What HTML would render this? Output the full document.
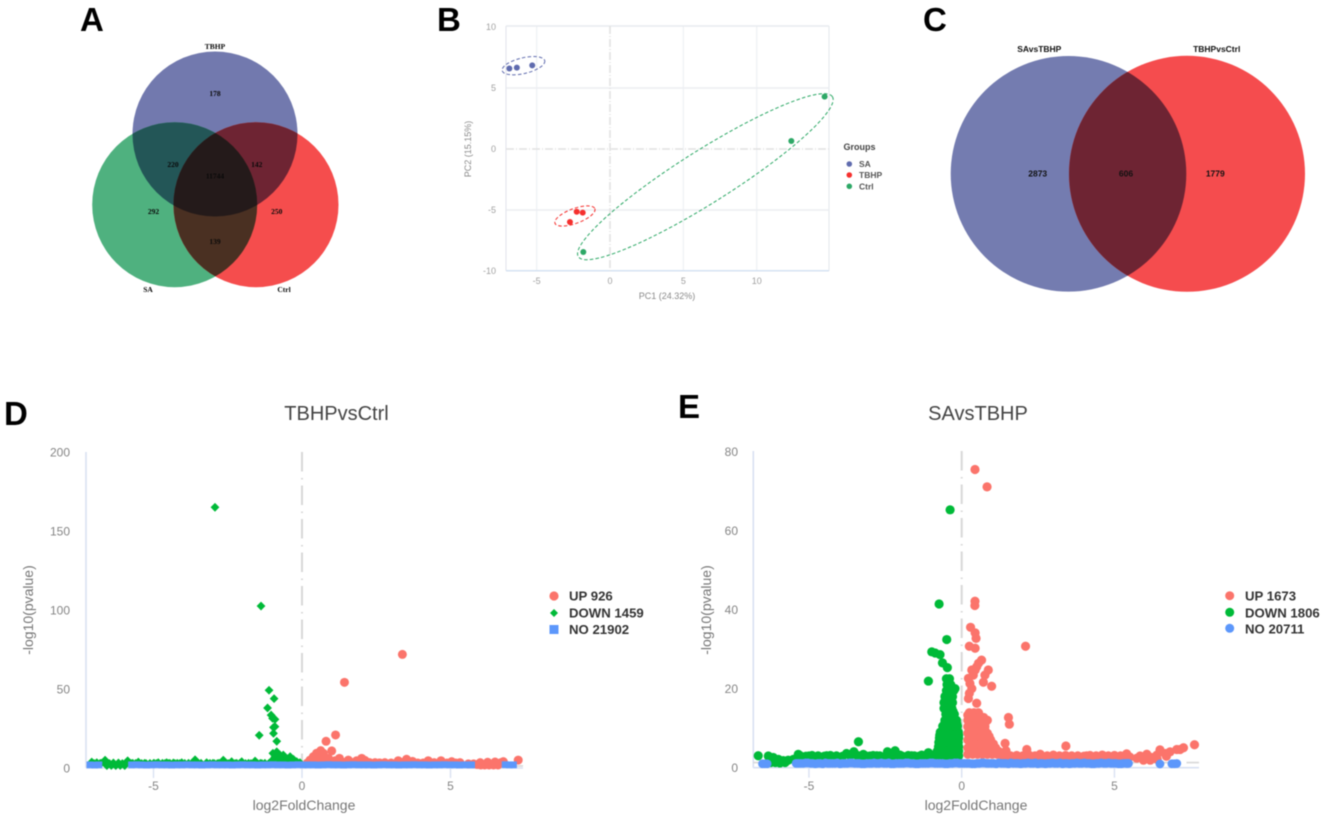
<!DOCTYPE html>
<html lang="en">
<head>
<meta charset="utf-8">
<title>Transcriptome comparison figure</title>
<style>
html,body{margin:0;padding:0;background:#fff;width:1325px;height:820px;overflow:hidden}
svg{display:block;filter:blur(.4px);font-family:"Liberation Sans",Arial,sans-serif}
.panel{font-weight:700;font-size:33px;fill:#000}
.vn{font-family:"Liberation Serif",serif;font-weight:700;font-size:7.5px;fill:#0a0a0a;text-anchor:middle}
.vc{font-weight:700;font-size:8.5px;fill:#111;text-anchor:middle}
.tick{fill:#858585;font-size:12px}
.axt{fill:#777;font-size:14px;text-anchor:middle}
.ttl{fill:#444;font-size:20px;text-anchor:middle}
.leg{fill:#333;font-size:13.2px;font-weight:700}
.btick{fill:#a0a0a0;font-size:9px}
.baxt{fill:#8a8a8a;font-size:9px;text-anchor:middle}
.bleg{fill:#555;font-size:8.5px;font-weight:700}
</style>
</head>
<body>
<svg id="fig" width="1325" height="820" viewBox="0 0 1325 820" xmlns="http://www.w3.org/2000/svg">
<defs>
<clipPath id="cT"><circle cx="215" cy="134" r="82.5"/></clipPath>
<clipPath id="cS"><circle cx="174.7" cy="204.7" r="82.5"/></clipPath>
<clipPath id="cC"><circle cx="256" cy="204.7" r="82.5"/></clipPath>
<clipPath id="cL"><circle cx="1068.5" cy="173.8" r="117.8"/></clipPath>
</defs>

<text class="panel" x="80" y="31">A</text>
<text class="panel" x="437" y="31">B</text>
<text class="panel" x="923" y="31">C</text>
<text class="panel" x="4" y="425">D</text>
<text class="panel" x="678" y="418">E</text>

<g>
<circle cx="215" cy="134" r="82.5" fill="#7279ae"/>
<circle cx="174.7" cy="204.7" r="82.5" fill="#4fb17f"/>
<circle cx="256" cy="204.7" r="82.5" fill="#f54d4d"/>
<g clip-path="url(#cT)">
<circle cx="174.7" cy="204.7" r="82.5" fill="#235657"/>
<circle cx="256" cy="204.7" r="82.5" fill="#6e2433"/>
</g>
<g clip-path="url(#cS)">
<circle cx="256" cy="204.7" r="82.5" fill="#4a3022"/>
<g clip-path="url(#cT)"><circle cx="256" cy="204.7" r="82.5" fill="#241a1a"/></g>
</g>
<text class="vn" x="215" y="49">TBHP</text>
<text class="vn" x="148" y="292">SA</text>
<text class="vn" x="284" y="292">Ctrl</text>
<text class="vn" x="215" y="96">178</text>
<text class="vn" x="173" y="167">220</text>
<text class="vn" x="256.7" y="167">142</text>
<text class="vn" x="215" y="178.5">11744</text>
<text class="vn" x="153.5" y="214">292</text>
<text class="vn" x="276.7" y="214">250</text>
<text class="vn" x="215" y="244">139</text>
</g>

<g>
<circle cx="1068.5" cy="173.8" r="117.8" fill="#747cb0"/>
<circle cx="1187" cy="173.8" r="118" fill="#f54c4e"/>
<g clip-path="url(#cL)"><circle cx="1187" cy="173.8" r="118" fill="#6e2433"/></g>
<text class="vc" x="1039.3" y="52">SAvsTBHP</text>
<text class="vc" x="1216.7" y="52">TBHPvsCtrl</text>
<text class="vc" x="1037.7" y="176.3">2873</text>
<text class="vc" x="1126" y="176.3">606</text>
<text class="vc" x="1215.3" y="176.3">1779</text>
</g>

<g id="pca">
<text class="baxt" x="667" y="299">PC1 (24.32%)</text>
<text class="baxt" transform="translate(471,149) rotate(-90)">PC2 (15.15%)</text>
<text x="843.5" y="150" font-size="9" font-weight="700" fill="#444">Groups</text>
<circle cx="849.3" cy="164" r="2.8" fill="#5f6bae"/>
<text class="bleg" x="859" y="167">SA</text>
<circle cx="849.3" cy="175" r="2.8" fill="#f5302e"/>
<text class="bleg" x="859" y="178">TBHP</text>
<circle cx="849.3" cy="186.3" r="2.8" fill="#2da866"/>
<text class="bleg" x="859" y="189.3">Ctrl</text>
</g>

<g id="volD">
<text class="ttl" x="336.5" y="420">TBHPvsCtrl</text>
<text class="axt" x="304" y="810">log2FoldChange</text>
<text class="axt" transform="translate(33,610) rotate(-90)">-log10(pvalue)</text>
</g>
<g>
<circle cx="554" cy="596" r="4.6" fill="#fb746b"/>
<text class="leg" x="569" y="600.5">UP 926</text>
<polygon points="554,609 558,613 554,617 550,613" fill="#00ba38"/>
<text class="leg" x="569" y="617.7">DOWN 1459</text>
<rect x="549.5" y="625" width="9" height="9" fill="#5c97fb"/>
<text class="leg" x="569" y="634">NO 21902</text>
</g>

<g id="volE">
<text class="ttl" x="978" y="420">SAvsTBHP</text>
<text class="axt" x="976" y="810">log2FoldChange</text>
<text class="axt" transform="translate(711,610) rotate(-90)">-log10(pvalue)</text>
</g>
<g>
<circle cx="1229.7" cy="595.7" r="4.5" fill="#fb746b"/>
<text class="leg" x="1245" y="600.5">UP 1673</text>
<circle cx="1229.7" cy="612.3" r="4.5" fill="#00ba38"/>
<text class="leg" x="1245" y="617.5">DOWN 1806</text>
<circle cx="1229.7" cy="628.3" r="4.5" fill="#5c97fb"/>
<text class="leg" x="1245" y="633.7">NO 20711</text>
</g>
</svg>

<script>
/* ---------- PCA data ---------- */
const pcaXTicks = [-5, 0, 5, 10];
const pcaYTicks = [10, 5, 0, -5, -10];
const saPC1 = [-6.86, -6.35, -5.3];
const saPC2 = [6.6, 6.67, 6.85];
const tbhpPC1 = [-2.27, -1.86, -2.73];
const tbhpPC2 = [-5.14, -5.22, -5.98];
const ctrlPC1 = [14.63, 12.36, -1.82];
const ctrlPC2 = [4.29, 0.66, -8.44];
const ellipseCenterPC1 = [-5.9, -2.39, 6.5];
const ellipseCenterPC2 = [6.83, -5.49, -2.27];
const ellipseAxisPC1 = [1.45, 1.36, 8.66];
const ellipseAxisPC2 = [0.41, 0.6, 6.56];
const ellipseRatio = [0.36, 0.35, 0.175];

/* ---------- Volcano D data ---------- */
const dXTicks = [-5, 0, 5];
const dYTicks = [0, 50, 100, 150, 200];
const dUpX = [3.38,1.43,1.13,0.81,1.0,0.27,0.38,0.49,0.63,0.72,0.77,0.55,0.89,1.26,1.11,1.56,2.01,1.84,2.12,2.46,2.79,3.24,3.52,3.72,4.25,4.68,5.04,5.32,5.6,5.78,5.9,6.02,6.15,6.3,6.45,6.6,6.78,7.28,6.0,6.25,6.5,6.7,0.18,0.42,0.66,1.35,1.7,2.28,2.62,3.0,3.42,3.9,4.08,4.45,4.88,5.18,
0.45,0.6,0.7,0.95,0.35,0.5,0.85,1.2,1.4,1.95,2.25,2.6];
const dUpY = [71.9,54.2,20.9,16.9,10.8,5,7.2,9.3,11,9.3,6.8,6.1,6.1,6.1,4.6,5,6.1,4.6,4.8,3.4,3.4,4.6,5.5,4.2,4.6,4.6,4,3.4,2.6,2.6,2.2,1.9,1.9,1.9,1.9,1.9,4,5,3.4,3.6,3.8,3.4,3.2,4,4.4,3.8,3.4,3.4,3.2,3.2,3.6,3.2,3.2,3.4,3.2,3.2,
5,7,5,4,4,4,4,4,3.4,4,3.4,3.2];
const dDownX = [-2.93,-1.38,-1.11,-0.94,-1.16,-1.04,-0.99,-0.91,-0.91,-0.96,-0.96,-1.44,-0.85,-7.08,-6.91,-6.63,-6.35,-6.18,-5.87,-5.51,-5.12,-4.84,-4.56,-4.33,-4.05,-3.6,-3.21,-2.65,-2.37,-2.03,-1.58,-1.25,-6.57,-6.42,-6.27,-6.12,-5.97,-6.5,-6.34,-6.2,-6.05,-5.92,-1.02,-0.85,-0.98,-0.74,-0.63,-0.4,-0.91,-0.68,-0.52,-0.29,-0.18,-0.07,-0.4,-6.76,-5.7,-5.3,-4.98,-4.7,-4.45,-4.2,-3.82,-3.4,-3,-2.8,-2.2,-1.8,-1.4,
-7.0,-6.8,-6.48,-5.75,-5.6,-5.4,-5.25,-5.0,-4.9,-4.62,-4.5,-4.28,-4.12,-3.95,-3.72,-3.48,-3.1,-2.95,-2.85,-2.55,-2.48,-2.25,-2.1,-1.9,-1.72,-1.5,-1.35,-1.12,
-0.8,-0.6,-0.45,-0.3,-0.15,-0.9,-0.75];
const dDownY = [165,102.5,49.2,43.9,38,33.5,31.4,30.8,26.2,25.7,21.9,20.7,16.9,3.8,3.4,5,3.2,3.2,4.6,3.8,2.9,3.4,3.4,3.2,3.4,5.2,3.4,5,4,4,4.4,3,1.5,1.6,1.5,1.6,1.5,2.7,2.8,2.7,2.8,2.7,4.6,10.3,9.3,8.2,8.2,7.2,6.8,5.5,5.5,5.5,4,3.4,4.6,3,3,3,3,3,3,3,3,3,3,3,3,3,3,
2.8,2.9,2.8,2.8,2.9,2.8,2.8,2.9,2.8,2.8,2.9,2.8,2.8,2.9,2.8,2.8,2.9,2.8,2.8,2.9,2.8,2.8,2.9,2.8,2.8,2.9,2.8,2.8,
3.5,3.5,3.5,3.5,3.5,7.5,6];
const dNoX = [-5.74,-5.57,-5.41,-5.23,-5.06,-4.9,-4.72,-4.55,-4.39,-4.21,
-4.04,-3.88,-3.7,-3.53,-3.37,-3.19,-3.02,-2.86,-2.68,-2.51,
-2.35,-2.17,-2.0,-1.84,-1.66,-1.49,-1.33,-1.15,-0.98,-0.82,
-0.64,-0.47,-0.31,-0.13,0.04,0.2,0.38,0.55,0.71,0.89,
1.06,1.22,1.4,1.57,1.73,1.91,2.08,2.24,2.42,2.59,
2.75,2.93,3.1,3.26,3.44,3.61,3.77,3.95,4.12,4.28,
4.46,4.63,4.79,4.97,5.14,5.3,5.48,5.65,5.71,6.84,
6.98,7.12,-7.14,-6.98,-6.84];
const dNoY = [2,2.1,2,1.9,2,2.1,2,2,1.9,2,
2,2.1,2,2,1.9,2,2.1,2,2,2,
1.9,2,2.1,2,2,1.9,2,2,2.1,2,
2,1.9,2,2.1,2,2,2,1.9,2,2.1,
2,2,1.9,2,2.1,2,2,2,1.9,2,
2.1,2,2,1.9,2,2,2.1,2,2,1.9,
2,2,2.1,2,2,1.9,2,2,2,2.1,
2,2,2,1.9,2];

/* ---------- Volcano E data ---------- */
const eXTicks = [-5, 0, 5];
const eYTicks = [0, 20, 40, 60, 80];
const eUpX = [0.435,0.83,0.435,0.43,2.09,
0.29,0.44,0.47,0.25,0.44,
0.65,0.55,0.49,0.44,0.33,0.38,0.22,0.27,0.33,0.25,0.22,0.49,0.87,0.76,0.71,0.98,
1.53,1.56,1.42,
0.2,0.36,0.52,0.68,0.84,1,1.16,1.3,
0.2,0.36,0.52,0.68,0.84,1,1.11,
0.2,0.36,0.52,0.68,0.84,0.95,
0.2,0.36,0.52,0.68,0.84,
0.2,0.36,0.52,0.68,0.76,
0.2,0.36,0.52,0.68,0.84,
0.2,0.34,0.48,0.55,
0.25,0.4,0.55,
1.35,1.5,1.7,1.9,2.1,2.3,2.5,2.7,2.9,3.1,3.3,3.5,3.7,3.9,4.1,4.3,4.5,4.7,4.9,5.1,5.3,5.5,
1.45,2.13,2.57,3.41,4.09,4.64,5.4,
5.73,5.84,6.06,6.22,6.49,6.39,6.66,6.82,7.04,7.26,7.15,7.62,5.95,6.17,6.4,6.7,
0.28,0.44,0.6,0.76,0.92,1.08,1.2,
0.28,0.44,0.6,0.76,0.92,1.04,
0.28,0.44,0.6,0.76,0.9,
0.28,0.44,0.6,0.76,
0.28,0.44,0.6,0.76,
0.28,0.42,0.56,0.72,
1.42,1.6,1.8,2.0,2.2,2.4,2.6,2.8,3.0,3.2,3.4,3.6,3.8,4.0,4.2,4.4,4.6,4.8,5.0,5.2,5.4];
const eUpY = [75.4,71,42.1,41,30.7,
35.5,34.1,32.7,30.7,30.2,
27.2,26.4,25.5,24.7,24.7,23.4,22.6,21.3,20,18.8,17.5,16.3,24.7,23.4,21.6,20.6,
12.7,11,6.15,
3.4,3.4,3.4,3.4,3.4,3.4,3.4,3.4,
5,5,5,5,5,5,5,
7,7,7,7,7,7,
8.7,8.7,8.7,8.7,8.7,
10.4,10.4,10.4,10.4,10.4,
12,12,12,12,12,
13.3,13.3,13.3,13.3,
13.9,13.9,13.9,
3,2.6,2.4,2.7,2.5,2.4,2.8,2.5,2.4,2.6,2.5,2.4,2.3,2,2.4,2.6,2.5,2.7,2.4,2.2,2.6,2.7,
4.3,4.6,3.4,5.5,3,3,3.5,
2.4,2.95,3.4,2.6,4.5,3.2,3.6,4,4.6,5.05,4.6,5.8,1.9,1.9,2.1,2.9,
4.2,4.2,4.2,4.2,4.2,4.2,4.2,
6,6,6,6,6,6,
7.9,7.9,7.9,7.9,7.9,
9.5,9.5,9.5,9.5,
11.2,11.2,11.2,11.2,
12.7,12.7,12.7,12.7,
3.2,3,3.1,3,3.2,3,3.1,3,3.2,3,3.1,3,3,2.9,3.1,3,3.2,3,3.1,3,3.2];
const eDownX = [-6.66,-6.33,-6.17,-6.0,-5.84,-5.68,-5.51,-5.35,-5.19,-5.0,-4.8,-4.62,-4.42,-4.2,-3.98,-3.77,-3.53,-3.38,-3.44,-3.22,-3.0,-2.78,-2.59,-2.43,-2.18,-2.24,-2.02,-1.86,-1.64,-1.47,-1.31,-1.09,-0.93,
-6.25,-6.1,-5.95,-5.78,
-0.78,-0.62,-0.46,-0.3,-0.14,-0.1,
-0.76,-0.6,-0.44,-0.28,-0.1,
-0.73,-0.58,-0.42,-0.26,-0.1,
-0.7,-0.55,-0.4,-0.25,-0.11,
-0.62,-0.48,-0.34,-0.2,-0.14,
-0.55,-0.42,-0.3,-0.17,
-0.52,-0.4,-0.28,-0.24,
-0.58,-0.44,-0.32,
-0.58,-0.44,-0.3,
-0.55,-0.42,-0.3,
-0.5,-0.38,-0.26,-0.22,
-0.48,-0.36,
-0.5,-0.4,
-0.47,-0.63,-0.71,-0.87,-0.98,-0.49,-1.09,
-0.38,-0.74,
-0.8,-0.64,-0.48,-0.32,-0.16,-0.1,
-0.75,-0.59,-0.43,-0.27,-0.11,
-0.72,-0.56,-0.4,-0.24,-0.1,
-0.56,-0.42,-0.28,-0.16,
-0.5,-0.38,-0.28,
-0.5,-0.37,
-5.28,-5.1,-4.9,-4.7,-4.5,-4.3,-4.1,-3.9,-3.65,-3.3,-3.1,-2.9,-2.68,-2.5,-2.3,-2.1,-1.94,-1.75,-1.55,-1.4,-1.2,-1.02];
const eDownY = [3.03,2.95,2.6,2.1,1.8,1.9,2.1,3.37,2.6,2.95,2.6,2.6,3.03,2.44,2.6,3.6,4.04,6.57,3.2,3.37,2.95,3.03,2.44,4.04,4.3,2.95,3.2,2.44,3.03,2.44,3.2,3.8,3.2,
1.3,1.3,1.2,1.3,
3,3,3,3,3,3,
5.3,5.3,5.3,5.3,5.3,
7.5,7.5,7.5,7.5,7.5,
9,9,9,9,9,
10.5,10.5,10.5,10.5,10.5,
12,12,12,12,
13.5,13.5,13.5,13.5,
15,15,15,
16.5,16.5,16.5,
18,18,18,
19.5,19.5,19.5,20,
21,21,
22.5,22.5,
25.3,26.5,28.6,29,29.3,32.4,21.9,
65.2,41.4,
4.2,4.2,4.2,4.2,4.2,4.2,
6.4,6.4,6.4,6.4,6.4,
8.2,8.2,8.2,8.2,8.2,
11.2,11.2,11.2,11.2,
14.2,14.2,14.2,
17.2,17.2,
3,2.9,3.1,3,2.9,3.1,3,2.9,3.1,3,2.9,3.1,3,2.9,3.1,3,2.9,3.1,3,2.9,3.1,3];
const eNoX = [-6.52,-6.37,-5.42,-5.27,-5.11,-4.94,-4.79,-4.63,-4.46,-4.31,
-4.15,-3.98,-3.83,-3.67,-3.5,-3.35,-3.19,-3.02,-2.87,-2.71,
-2.54,-2.39,-2.23,-2.06,-1.91,-1.75,-1.58,-1.43,-1.27,-1.1,
-0.95,-0.79,-0.62,-0.47,-0.31,-0.14,0.01,0.17,0.34,0.49,
0.65,0.82,0.97,1.13,1.3,1.45,1.61,1.78,1.93,2.09,
2.26,2.41,2.57,2.74,2.89,3.05,3.22,3.37,3.53,3.7,
3.85,4.01,4.18,4.33,4.49,4.66,4.81,4.97,5.14,5.29,
5.46,6.49,6.88,7.04,
-5.35,-5.19,-5.03,-4.87,-4.71,-4.55,-4.38,-4.23,-4.07,-3.91,
-3.75,-3.59,-3.42,-3.27,-3.11,-2.95,-2.79,-2.63,-2.46,-2.31,
-2.15,-1.99,-1.83,-1.67,-1.5,-1.35,-1.19,-1.03,-0.87,-0.71,
-0.54,-0.39,-0.23,-0.07,0.09,0.25,0.42,0.57,0.73,0.89,
1.05,1.21,1.38,1.53,1.69,1.85,2.01,2.17,2.34,2.49,
2.65,2.81,2.97,3.13,3.3,3.45,3.61,3.77,3.93,4.09,
4.26,4.41,4.57,4.73,4.89,5.05,5.22,5.38,5.4,5.44,
-6.45,6.96];
const eNoY = [1,1,1.1,1.1,1.2,1.1,1,1.1,1.2,1.1,
1.1,1,1.1,1.2,1.1,1.1,1,1.1,1.2,1.1,
1.1,1.2,1,1.1,1.1,1.2,1.1,1,1.1,1.1,
1.2,1.1,1.1,1,1.1,1.2,1.1,1.1,1,1.1,
1.2,1.1,1.1,1,1.1,1.1,1.2,1.1,1,1.1,
1.1,1.2,1.1,1,1.1,1.1,1.2,1.1,1,1.1,
1.1,1.2,1.1,1,1.1,1.1,1.2,1.1,1,1.1,
1.1,0.95,1,1.05,
1.1,1.1,1.2,1.1,1.1,1,1.1,1.1,1.2,1.1,
1.1,1.2,1.1,1,1.1,1.1,1.1,1.2,1.1,1,
1.1,1.1,1.2,1.1,1,1.1,1.1,1.2,1.1,1.1,
1,1.1,1.2,1.1,1.1,1.1,1,1.1,1.2,1.1,
1.1,1.2,1.1,1,1.1,1.1,1.1,1.2,1.1,1,
1.1,1.1,1.2,1.1,1,1.1,1.1,1.2,1.1,1.1,
1,1.1,1.2,1.1,1.1,1.1,1,1.1,1.1,1.1,
1,1];

/* ---------- Axis functions ---------- */
const xB = v => 610 + 14.67 * v;
const yB = v => 149 - 12.2 * v;
const xD = v => 302 + 29.7 * v;
const yD = v => 768 - 1.58 * v;
const xE = v => 961.7 + 30.55 * v;
const yE = v => 767.7 - 3.955 * v;

const NS = 'http://www.w3.org/2000/svg';
function mk(tag, attrs, parent) {
  const n = document.createElementNS(NS, tag);
  for (const k in attrs) n.setAttribute(k, attrs[k]);
  parent.appendChild(n);
  return n;
}
function gridLine(parent, x1, y1, x2, y2, stroke, width, dash, name) {
  const el = mk('line', {x1, y1, x2, y2, stroke, 'stroke-width': width}, parent);
  if (dash) el.setAttribute('stroke-dasharray', dash);
  
  
  return el;
}
function label(parent, cls, x, y, anchor, str, name) {
  const el = mk('text', {class: cls, x, y, 'text-anchor': anchor}, parent);
  el.textContent = str;
  
  
  return el;
}

/* ---------- PCA ---------- */
(function () {
  const g = document.getElementById('pca');
  const L = 506, R = 829, T = 26, B = 270.7;
  pcaXTicks.forEach(v => {
    if (v !== 0) gridLine(g, xB(v), T, xB(v), B, '#eff1f4', 1.3, null, 'pca-vertical-gridline');
    label(g, 'btick', xB(v), 284, 'middle', String(v), 'pca-x-tick-label');
  });
  pcaYTicks.forEach(v => {
    if (v !== 0 && v !== 10 && v !== -10) gridLine(g, L, yB(v), R, yB(v), '#eceef2', 1.5, null, 'pca-horizontal-gridline');
    label(g, 'btick', 496, yB(v) + 3, 'end', String(v), 'pca-y-tick-label');
  });
  gridLine(g, L, T, R, T, '#e8ebef', 1.5, null, 'pca-top-border');
  gridLine(g, L, T, L, B, '#e6e8ee', 1.3, null, 'pca-left-border');
  gridLine(g, R, T, R, B, '#e8ebef', 1.3, null, 'pca-right-border');
  gridLine(g, L, B, R, B, '#d5e2f2', 1.5, null, 'pca-x-axis-line');
  gridLine(g, xB(0), T, xB(0), B, '#e2e2e2', 1.6, '8 2 1 2', 'pca-zero-vertical-line');
  gridLine(g, L, yB(0), R, yB(0), '#e2e2e2', 1.6, '8 2 1 2', 'pca-zero-horizontal-line');

  const colors = ['#5f6bae', '#f5302e', '#2da866'];
  ellipseCenterPC1.forEach((c, i) => {
    const cx = xB(c), cy = yB(ellipseCenterPC2[i]);
    const ax = xB(c + ellipseAxisPC1[i]) - cx, ay = yB(ellipseCenterPC2[i] + ellipseAxisPC2[i]) - cy;
    const rot = Math.atan2(ay, ax) * 180 / Math.PI;
    const major = Math.hypot(ax, ay);
    const el = mk('ellipse', {cx, cy, rx: major, ry: major * ellipseRatio[i], fill: 'none', stroke: colors[i], 'stroke-width': 1, 'stroke-dasharray': '3.5 2.2', transform: 'rotate(' + rot + ' ' + cx + ' ' + cy + ')'}, g);
    
    
  });
  [[saPC1, saPC2, 0], [tbhpPC1, tbhpPC2, 1], [ctrlPC1, ctrlPC2, 2]].forEach(s => {
    s[0].forEach((v, i) => {
      const el = mk('circle', {cx: xB(v), cy: yB(s[1][i]), r: 3, fill: colors[s[2]]}, g);
      
      
    });
  });
})();

/* ---------- Volcano plots ---------- */
function axes(g, xf, yf, xT, yT, left, right, top, yLabelX, tag) {
  const bottom = yf(0);
  gridLine(g, left, top, left, bottom, '#d9e1f2', 1.6, null, tag + '-y-axis-line');
  gridLine(g, left, bottom, right, bottom, '#d9e1f2', 1.6, null, tag + '-x-axis-line');
  xT.forEach(v => {
    gridLine(g, xf(v), bottom, xf(v), bottom + 10, '#d9e1f2', 1.4, null, tag + '-x-tick');
    label(g, 'tick', xf(v), 790, 'middle', String(v), tag + '-x-tick-label');
  });
  yT.forEach(v => {
    label(g, 'tick', yLabelX, yf(v) + 4.5, 'end', String(v), tag + '-y-tick-label');
  });
  gridLine(g, xf(0), top, xf(0), bottom, '#d8d8d8', 2, '19.5 6.5 1.5 6', tag + '-zero-threshold-line');
  const h = gridLine(g, right, yf(1.3), left, yf(1.3), '#d8d8d8', 1.6, '19.5 6.5 1.5 6', tag + '-pvalue-threshold-line');
  h.setAttribute('stroke-dashoffset', '7');
}

(function () {
  const g = document.getElementById('volD');
  axes(g, xD, yD, dXTicks, dYTicks, 86, 523, 452, 70, 'volcano-d');
  dUpX.forEach((v, i) => {
    const el = mk('circle', {cx: xD(v), cy: yD(dUpY[i]), r: 4.5, fill: '#fb746b'}, g);
    
    
  });
  dDownX.forEach((v, i) => {
    const x = xD(v), y = yD(dDownY[i]), s = 4.4;
    const el = mk('polygon', {points: x + ',' + (y - s) + ' ' + (x + s) + ',' + y + ' ' + x + ',' + (y + s) + ' ' + (x - s) + ',' + y, fill: '#00ba38'}, g);
    
    
  });
  dNoX.forEach((v, i) => {
    const el = mk('rect', {x: xD(v) - 3.4, y: yD(dNoY[i]) - 3.4, width: 6.8, height: 6.8, fill: '#5c97fb'}, g);
    
    
  });
})();

(function () {
  const g = document.getElementById('volE');
  axes(g, xE, yE, eXTicks, eYTicks, 753.3, 1199, 451, 738, 'volcano-e');
  eUpX.forEach((v, i) => {
    const el = mk('circle', {cx: xE(v), cy: yE(eUpY[i]), r: 4.6, fill: '#fb746b'}, g);
    
    
  });
  eDownX.forEach((v, i) => {
    const el = mk('circle', {cx: xE(v), cy: yE(eDownY[i]), r: 4.6, fill: '#00ba38'}, g);
    
    
  });
  eNoX.forEach((v, i) => {
    const el = mk('circle', {cx: xE(v), cy: yE(eNoY[i]), r: 4.4, fill: '#5c97fb'}, g);
    
    
  });
})();
</script>
</body>
</html>
